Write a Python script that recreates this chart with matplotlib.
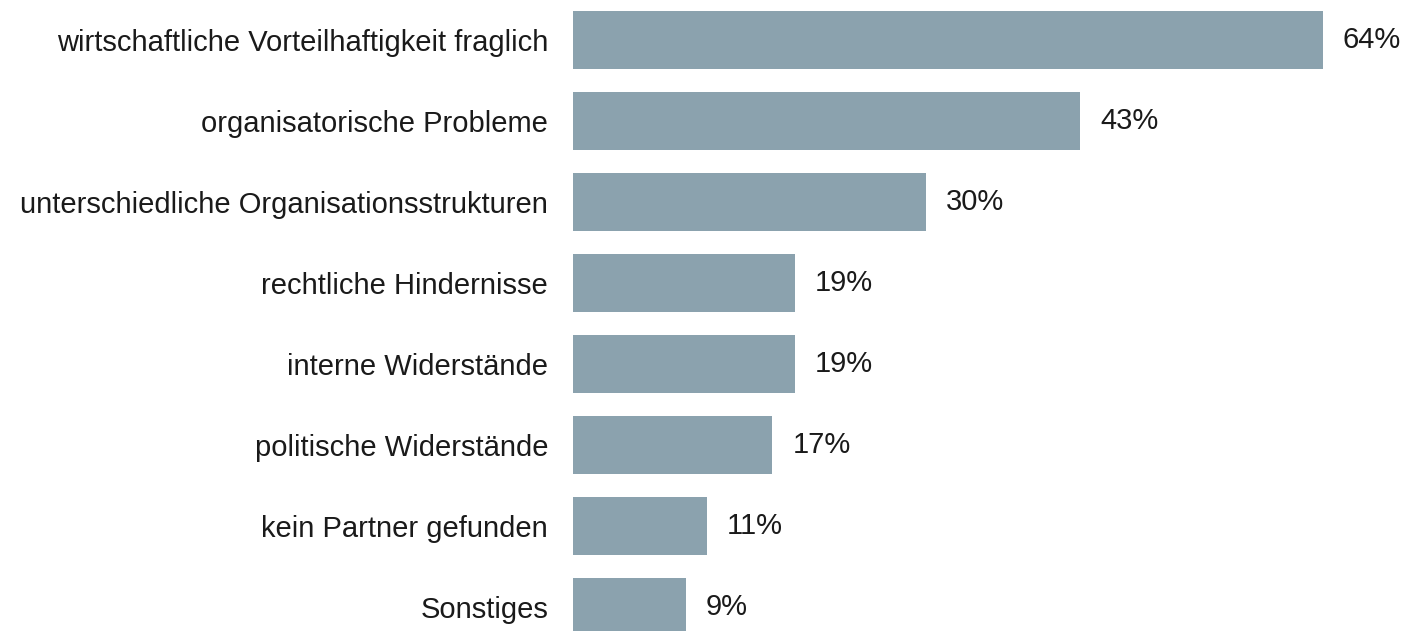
import matplotlib.pyplot as plt

plt.rcParams["font.family"] = ["Liberation Sans", "DejaVu Sans"]

categories = [
    "wirtschaftliche Vorteilhaftigkeit fraglich",
    "organisatorische Probleme",
    "unterschiedliche Organisationsstrukturen",
    "rechtliche Hindernisse",
    "interne Widerstände",
    "politische Widerstände",
    "kein Partner gefunden",
    "Sonstiges",
]
# bar lengths, printed labels as shown
values = [64, 43.3, 30.1, 18.9, 18.9, 17, 11.4, 9.6]
value_labels = ["64%", "43%", "30%", "19%", "19%", "17%", "11%", "9%"]

fig = plt.figure(figsize=(14.05, 6.31), dpi=100)
ax = fig.add_axes([0.408, 0, 0.592, 1])

y = range(len(categories))
ax.barh(y, values, height=0.72, color="#8ba2ae")

for i, v in enumerate(values):
    ax.text(v + 1.7, i, value_labels[i], va="center", ha="left",
            fontsize=21, color="#1a1a1a")

ax.set_yticks(list(y))
ax.set_yticklabels(categories, fontsize=21, color="#1a1a1a")
ax.tick_params(axis="y", length=0, pad=18)
ax.set_xticks([])
ax.set_xlim(0, 71)
ax.set_ylim(7.296, -0.494)

for s in ax.spines.values():
    s.set_visible(False)

fig.savefig("out.png", dpi=100)
